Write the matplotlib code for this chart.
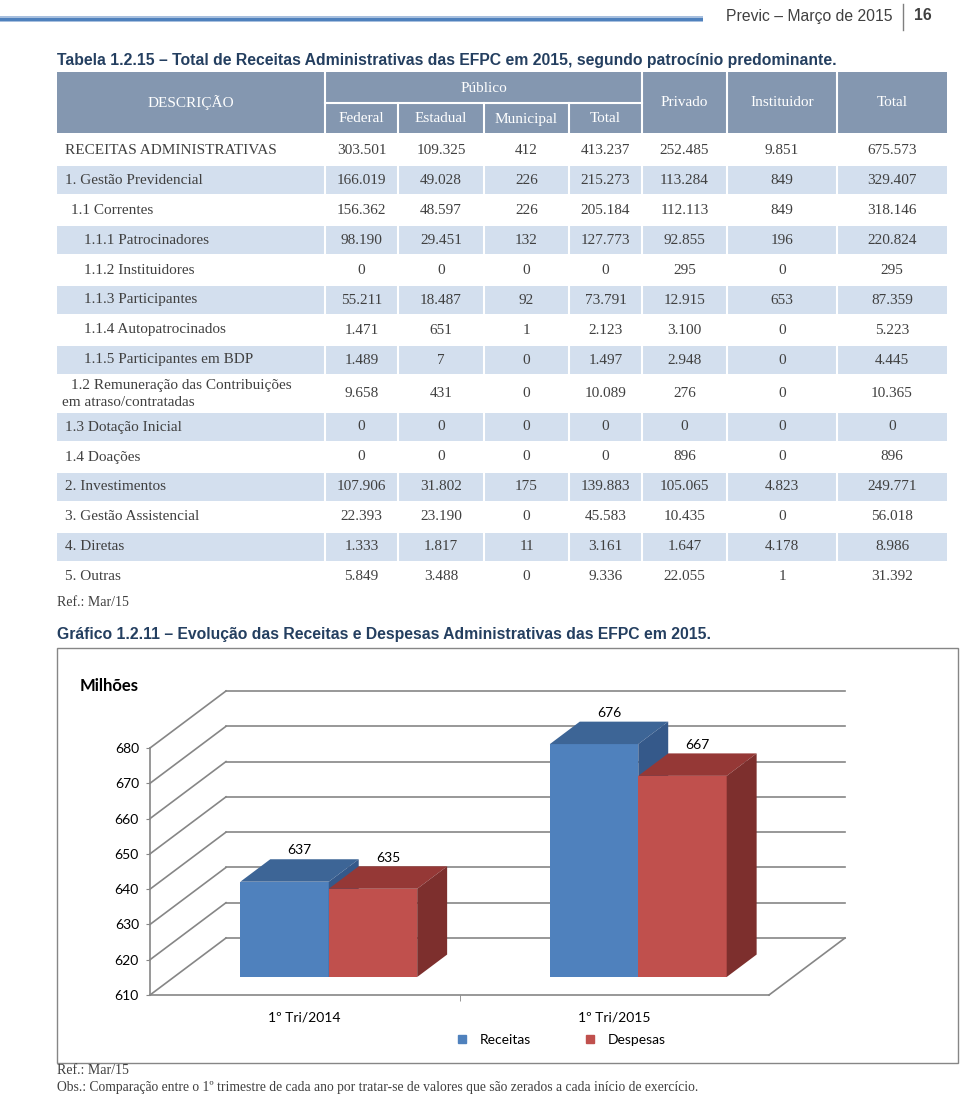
"""
Previc - Marco de 2015, p.16
Tabela 1.2.15 + Grafico 1.2.11 (barras 3D)
"""

import matplotlib
matplotlib.use('Agg')
import matplotlib.pyplot as plt
from matplotlib import font_manager
from matplotlib.patches import Rectangle, Polygon
from matplotlib.lines import Line2D

# ---------------- dados da tabela ----------------
descricao = ['RECEITAS ADMINISTRATIVAS', '1. Gestão Previdencial', '1.1 Correntes',
             '1.1.1 Patrocinadores', '1.1.2 Instituidores', '1.1.3 Participantes',
             '1.1.4 Autopatrocinados', '1.1.5 Participantes em BDP',
             '1.2 Remuneração das Contribuições\nem atraso/contratadas',
             '1.3 Dotação Inicial', '1.4 Doações', '2. Investimentos',
             '3. Gestão Assistencial', '4. Diretas', '5. Outras']
nivel = [0, 0, 1, 2, 2, 2, 2, 2, 1, 0, 0, 0, 0, 0, 0]

federal = ['303.501', '166.019', '156.362', '98.190', '0', '55.211', '1.471', '1.489',
           '9.658', '0', '0', '107.906', '22.393', '1.333', '5.849']
estadual = ['109.325', '49.028', '48.597', '29.451', '0', '18.487', '651', '7',
            '431', '0', '0', '31.802', '23.190', '1.817', '3.488']
municipal = ['412', '226', '226', '132', '0', '92', '1', '0',
             '0', '0', '0', '175', '0', '11', '0']
total_publico = ['413.237', '215.273', '205.184', '127.773', '0', '73.791', '2.123', '1.497',
                 '10.089', '0', '0', '139.883', '45.583', '3.161', '9.336']
privado = ['252.485', '113.284', '112.113', '92.855', '295', '12.915', '3.100', '2.948',
           '276', '0', '896', '105.065', '10.435', '1.647', '22.055']
instituidor = ['9.851', '849', '849', '196', '0', '653', '0', '0',
               '0', '0', '0', '4.823', '0', '4.178', '1']
total = ['675.573', '329.407', '318.146', '220.824', '295', '87.359', '5.223', '4.445',
         '10.365', '0', '896', '249.771', '56.018', '8.986', '31.392']

sub_header = ['Federal', 'Estadual', 'Municipal', 'Total']

# ---------------- dados do grafico ----------------
periodos = ['1º Tri/2014', '1º Tri/2015']
receitas = [637, 676]
despesas = [635, 667]
series_names = ['Receitas', 'Despesas']

# ---------------- estilo ----------------
names = {f.name for f in font_manager.fontManager.ttflist}
NARROW = 'Liberation Sans Narrow' if 'Liberation Sans Narrow' in names else 'Liberation Sans'
TITLE_SIZE = 12.5 if NARROW == 'Liberation Sans Narrow' else 11.3
SERIF = 'Liberation Serif'
CHART_FONT = 'Lato'
TXT = '#404040'
HEAD_BG = '#8497B0'
ROW_BG = '#D3DFEE'
TITLE_C = '#243F60'
GRID_C = '#868686'

W, H = 960, 1096
fig = plt.figure(figsize=(W / 100, H / 100), dpi=100)
page = fig.add_axes([0, 0, 1, 1])
page.set_xlim(0, W)
page.set_ylim(H, 0)
page.axis('off')

# cabecalho da pagina
page.add_patch(Rectangle((0, 16), 703, 6, color='#A7BFDE', lw=0))
page.add_patch(Rectangle((0, 17.5), 703, 3, color='#4F81BD', lw=0))
page.text(892, 16, 'Previc – Março de 2015', family=NARROW, fontsize=TITLE_SIZE,
          color=TXT, ha='right', va='center')
page.plot([903, 903], [4, 30], color='#7F7F7F', lw=1)
page.text(914, 16, '16', family=NARROW, fontsize=TITLE_SIZE, weight='bold',
          color=TXT, ha='left', va='center')

page.text(57, 61, 'Tabela 1.2.15 – Total de Receitas Administrativas das EFPC em 2015, '
          'segundo patrocínio predominante.', family=NARROW, fontsize=TITLE_SIZE,
          weight='bold', color=TITLE_C, ha='left', va='center')

# ---------------- tabela ----------------
cols = [57, 325, 398, 484, 569, 642, 727, 837, 947]
head_top, head_mid, head_bot = 72, 103, 133

page.add_patch(Rectangle((cols[0], head_top), cols[-1] - cols[0], head_bot - head_top,
                         color=HEAD_BG, lw=0))
hkw = dict(family=SERIF, fontsize=11, color='white', ha='center', va='center')
page.text((cols[0] + cols[1]) / 2, (head_top + head_bot) / 2, 'DESCRIÇÃO', **hkw)
page.text((cols[1] + cols[5]) / 2, (head_top + head_mid) / 2 + 1, 'Público', **hkw)
for k, name in enumerate(sub_header):
    page.text((cols[1 + k] + cols[2 + k]) / 2, (head_mid + head_bot) / 2 + 1, name, **hkw)
for k, name in enumerate(['Privado', 'Instituidor', 'Total']):
    page.text((cols[5 + k] + cols[6 + k]) / 2, (head_top + head_bot) / 2, name, **hkw)
for x in [cols[1], cols[5], cols[6], cols[7]]:
    page.plot([x, x], [head_top, head_bot], color='white', lw=1.5)
for x in cols[2:5]:
    page.plot([x, x], [head_mid, head_bot], color='white', lw=1.5)
page.plot([cols[1], cols[5]], [head_mid, head_mid], color='white', lw=1.5)

row_h = [30] * 8 + [37] + [30] * 6
indent_px = {0: 65, 1: 71, 2: 84}
columns = [federal, estadual, municipal, total_publico, privado, instituidor, total]
y = 135
for r, desc in enumerate(descricao):
    h = row_h[r]
    if r % 2 == 1:
        page.add_patch(Rectangle((cols[0], y + 1), cols[-1] - cols[0], h - 2,
                                 color=ROW_BG, lw=0))
        for x in cols[1:-1]:
            page.plot([x, x], [y + 1, y + h - 1], color='white', lw=1.5)
    yc = y + h / 2
    if '\n' in desc:
        l1, l2 = desc.split('\n')
        page.text(indent_px[nivel[r]], yc - 8, l1, family=SERIF, fontsize=11,
                  color=TXT, ha='left', va='center')
        page.text(62, yc + 9, l2, family=SERIF, fontsize=11,
                  color=TXT, ha='left', va='center')
    else:
        page.text(indent_px[nivel[r]], yc, desc, family=SERIF, fontsize=11,
                  color=TXT, ha='left', va='center')
    for c, vals in enumerate(columns):
        page.text((cols[1 + c] + cols[2 + c]) / 2, yc, vals[r], family=SERIF,
                  fontsize=11, color=TXT, ha='center', va='center')
    y += h

page.text(57, 602, 'Ref.: Mar/15', family=SERIF, fontsize=10, color=TXT,
          ha='left', va='center')

# ---------------- grafico ----------------
page.text(57, 634, 'Gráfico 1.2.11 – Evolução das Receitas e Despesas Administrativas '
          'das EFPC em 2015.', family=NARROW, fontsize=TITLE_SIZE, weight='bold',
          color=TITLE_C, ha='left', va='center')
page.add_patch(Rectangle((57, 648), 901, 415, fill=False, edgecolor=GRID_C, lw=1))
page.text(80, 686, 'Milhões', family=CHART_FONT, fontsize=12, weight='bold',
          color='black', ha='left', va='center')

x0, x1, ytop, ybot = 150, 769, 748, 995
ax = fig.add_axes([x0 / W, 1 - ybot / H, (x1 - x0) / W, (ybot - ytop) / H])
ax.patch.set_alpha(0)
ymin, ymax = 610, 680
ax.set_xlim(-0.5, 1.5)
ax.set_ylim(ymin, ymax)

# profundidade 3D (fracao -> unidades de dados)
DX = 76 / ((x1 - x0) / 2.0)
DY = 57 / ((ybot - ytop) / float(ymax - ymin))


def pt(x, v, f):
    return (x + f * DX, v + f * DY)


# paredes / grade
for v in range(ymin, ymax + 1, 10):
    ax.plot([pt(-0.5, v, 0)[0], pt(-0.5, v, 1)[0]], [pt(-0.5, v, 0)[1], pt(-0.5, v, 1)[1]],
            color=GRID_C, lw=1.2, clip_on=False, zorder=1)
    ax.plot([pt(-0.5, v, 1)[0], pt(1.5, v, 1)[0]], [pt(-0.5, v, 1)[1]] * 2,
            color=GRID_C, lw=1.2, clip_on=False, zorder=1)
ax.plot([pt(1.5, ymin, 0)[0], pt(1.5, ymin, 1)[0]], [pt(1.5, ymin, 0)[1], pt(1.5, ymin, 1)[1]],
        color=GRID_C, lw=1.2, clip_on=False, zorder=1)

# barras
bw = 1 / 3.5
f0, f1 = 0.316, 0.71
shades = {'Receitas': ('#4F81BD', '#3D6596', '#35598A'),
          'Despesas': ('#C0504D', '#953836', '#7D2F2D')}
for i in range(len(periodos)):
    for s, (name, vals) in enumerate(zip(series_names, [receitas, despesas])):
        v = vals[i]
        xa = i - bw + s * bw
        xb = xa + bw
        front, top, side = shades[name]
        ax.add_patch(Polygon([pt(xa, ymin, f0), pt(xb, ymin, f0), pt(xb, v, f0), pt(xa, v, f0)],
                             closed=True, facecolor=front, lw=0, zorder=3, clip_on=False))
        ax.add_patch(Polygon([pt(xa, v, f0), pt(xb, v, f0), pt(xb, v, f1), pt(xa, v, f1)],
                             closed=True, facecolor=top, lw=0, zorder=3, clip_on=False))
        ax.add_patch(Polygon([pt(xb, ymin, f0), pt(xb, v, f0), pt(xb, v, f1), pt(xb, ymin, f1)],
                             closed=True, facecolor=side, lw=0, zorder=3, clip_on=False))
        lx, ly = pt((xa + xb) / 2, v, (f0 + f1) / 2)
        ax.annotate(f'{v:.0f}', (lx, pt(xa, v, f1)[1]), xytext=(0, 2),
                    textcoords='offset points', ha='center', va='bottom',
                    family=CHART_FONT, fontsize=10, color='black', zorder=4,
                    annotation_clip=False)

# eixos
for side_name in ['top', 'right']:
    ax.spines[side_name].set_visible(False)
for side_name in ['left', 'bottom']:
    ax.spines[side_name].set_color(GRID_C)
    ax.spines[side_name].set_linewidth(1.2)
ax.set_yticks(range(ymin, ymax + 1, 10))
ax.tick_params(axis='y', length=3, color=GRID_C, pad=5, labelsize=10)
ax.set_xticks(range(len(periodos)))
ax.set_xticklabels(periodos)
ax.set_xticks([0.5], minor=True)
ax.tick_params(axis='x', which='major', length=0, pad=12, labelsize=10)
ax.tick_params(axis='x', which='minor', length=4, color=GRID_C)
for lab in ax.get_xticklabels() + ax.get_yticklabels():
    lab.set_family(CHART_FONT)

handles = [Line2D([], [], marker='s', ls='', markersize=6, color=shades[n][0], label=n)
           for n in series_names]
fig.legend(handles=handles, loc='center', bbox_to_anchor=(557 / W, 1 - 1040 / H),
           ncol=2, frameon=False, handletextpad=0.3, columnspacing=3.2,
           prop={'family': CHART_FONT, 'size': 10})

page.text(57, 1070, 'Ref.: Mar/15', family=SERIF, fontsize=10, color=TXT,
          ha='left', va='center')
page.text(57, 1088, 'Obs.: Comparação entre o 1º trimestre de cada ano por tratar-se de '
          'valores que são zerados a cada início de exercício.', family=SERIF,
          fontsize=9.8, color=TXT, ha='left', va='center')

fig.savefig('out.png', dpi=100)
